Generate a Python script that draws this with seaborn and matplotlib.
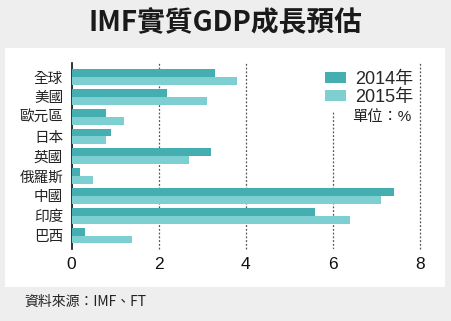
import matplotlib
matplotlib.use("Agg")
import matplotlib.pyplot as plt
import seaborn as sns
import pandas as pd
from matplotlib.patches import Rectangle, Patch

categories = ["全球", "美國", "歐元區", "日本", "英國", "俄羅斯", "中國", "印度", "巴西"]
growth_2014 = [3.3, 2.2, 0.8, 0.9, 3.2, 0.2, 7.4, 5.6, 0.3]
growth_2015 = [3.8, 3.1, 1.2, 0.8, 2.7, 0.5, 7.1, 6.4, 1.4]
series = ["2014年", "2015年"]
xticks = [0, 2, 4, 6, 8]

df = pd.DataFrame({
    "region": categories * 2,
    "value": growth_2014 + growth_2015,
    "year": [series[0]] * len(categories) + [series[1]] * len(categories),
})

sns.set_theme(style="white")
plt.rcParams["font.family"] = ["Liberation Sans", "Noto Sans CJK TC", "DejaVu Sans"]

c14 = "#45aeb0"
c15 = "#7dcfd2"

fig = plt.figure(figsize=(4.51, 3.21), dpi=100)
fig.patch.set_facecolor("#eeeeee")
fig.patches.append(Rectangle((5 / 451, 1 - 287 / 321), 440 / 451, (287 - 48) / 321,
                             transform=fig.transFigure, facecolor="white", edgecolor="none", zorder=-10))

ax = fig.add_axes([71.5 / 451, 1 - 249 / 321, (420 - 71.5) / 451, (249 - 63) / 321])
ax.set_facecolor("none")
sns.barplot(data=df, x="value", y="region", hue="year", order=categories, hue_order=series,
            palette=[c14, c15], width=0.8, saturation=1, ax=ax, legend=False, zorder=3,
            linewidth=0, edgecolor="none")

ax.set_xlim(0, 8)
ax.set_ylim(8.68, -0.71)
for v in [2, 4, 8]:
    ax.axvline(v, color="#555555", linestyle=(0, (1.5, 1.5)), linewidth=0.9, zorder=1, clip_on=False)
ax.axvline(6, ymax=(249 - 112) / 186, color="#555555", linestyle=(0, (1.5, 1.5)), linewidth=0.9, zorder=1)

for s in ["top", "right", "bottom"]:
    ax.spines[s].set_visible(False)
ax.spines["left"].set_color("#111111")
ax.spines["left"].set_linewidth(1.2)
ax.set_xticks(xticks)
ax.set_xticklabels([str(t) for t in xticks], fontsize=12.5, color="#111111")
ax.tick_params(axis="x", length=0, pad=6)
ax.tick_params(axis="y", length=0, pad=6)
for lab in ax.get_yticklabels():
    lab.set_fontsize(10.5)
    lab.set_color("#222222")
ax.set_xlabel("")
ax.set_ylabel("")

handles = [Patch(facecolor=c14, edgecolor="none"), Patch(facecolor=c15, edgecolor="none")]
fig.legend(handles, series, loc="upper left", bbox_to_anchor=(312 / 451, 1 - 58 / 321),
           frameon=False, fontsize=13, handlelength=1.2, handleheight=0.55,
           handletextpad=0.5, labelspacing=0.05, borderpad=0.2)
fig.text(352 / 451, 1 - 117 / 321, "單位：%", fontsize=11, color="#222222", va="center", ha="left")

fig.text(0.5, 1 - 23 / 321, "IMF實質GDP成長預估", fontsize=20, fontweight="bold",
         family=["Noto Sans CJK TC"], color="#1a1a1a", ha="center", va="center")
fig.text(24 / 451, 1 - 302 / 321, "資料來源：IMF、FT", fontsize=10, color="#222222",
         family=["Noto Sans CJK TC"], ha="left", va="center")

fig.savefig("out.png", dpi=100)
